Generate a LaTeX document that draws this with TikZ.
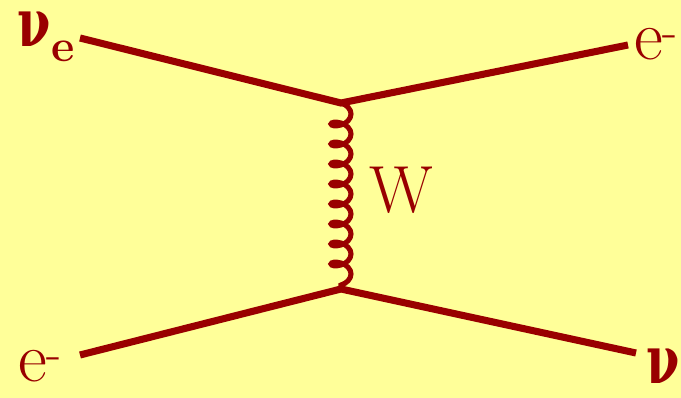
\documentclass[tikz,border=0pt]{standalone}
\usepackage{fontspec}
\newfontfamily\serifgreca{DejaVu Serif}
\usepackage{tikz}
\usetikzlibrary{decorations.pathmorphing}
\definecolor{fondo}{RGB}{255,255,153}
\definecolor{rossoscuro}{RGB}{153,0,0}
\newcommand{\nubold}{\scalebox{0.72}[1]{\serifgreca\fontsize{50}{60}\selectfont\textbf{ν}}}

\begin{document}
\begin{tikzpicture}[x=0.75pt, y=-0.75pt,
    fermione/.style={rossoscuro, line width=5.3pt},
    bosone/.style={rossoscuro, line width=3.8pt, decorate,
        decoration={coil, amplitude=7.5pt, segment length=15pt, aspect=0.6}},
    etichetta/.style={rossoscuro, inner sep=0pt, anchor=base west}]

    % === Sfondo e area ===
    \fill[fondo] (0,0) rectangle (681,398);
    \useasboundingbox (0,0) rectangle (681,398);

    % === Vertici ed estremi ===
    \coordinate (vtop) at (341, 103);
    \coordinate (vbot) at (341, 289);
    \coordinate (nuin) at (80, 38);
    \coordinate (eout) at (628, 45);
    \coordinate (ein) at (80, 355);
    \coordinate (nuout) at (636, 353);

    % === 1. Bosone W (linea a spirale) ===
    \draw[bosone] (vtop) -- (vbot);

    % === 2. Linee dei fermioni ===
    \draw[fermione] (nuin) -- (vtop) -- (eout);
    \draw[fermione] (ein) -- (vbot) -- (nuout);

    % === 3. Etichette ===
    \node[etichetta] (lnue) at (17, 47) {\nubold\hspace{1pt}\raisebox{-11pt}{\fontsize{34}{40}\selectfont\textbf{e}}};
    \node[etichetta] (leout) at (634, 60) {\fontsize{53}{60}\selectfont e\textsuperscript{-}};
    \node[etichetta] (lw) at (369, 213) {\fontsize{50}{60}\selectfont W};
    \node[etichetta] (lein) at (18, 382) {\fontsize{53}{60}\selectfont e\textsuperscript{-}};
    \node[etichetta] (lnuout) at (646, 383) {\nubold};

\end{tikzpicture}
\end{document}
